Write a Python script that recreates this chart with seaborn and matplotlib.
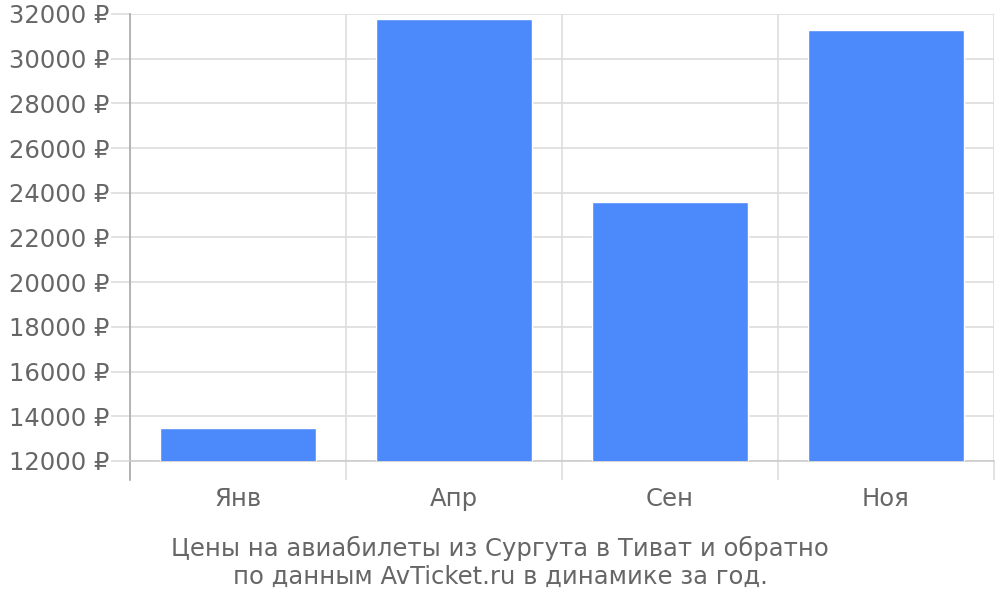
import numpy as np
import pandas as pd
import matplotlib
matplotlib.use("Agg")
import matplotlib.pyplot as plt
import seaborn as sns
from matplotlib.ticker import FixedLocator, FuncFormatter

months = ["Янв", "Апр", "Сен", "Ноя"]
prices = [13480, 31780, 23590, 31270]
y_ticks = list(range(12000, 32001, 2000))
caption = "Цены на авиабилеты из Сургута в Тиват и обратно\nпо данным AvTicket.ru в динамике за год."

BAR_COLOR = "#4c89fa"
TEXT_COLOR = "#666666"
GRID_COLOR = "#dddddd"
FS = 17.5

sns.set_theme(style="white")
plt.rcParams["font.family"] = ["DejaVu Sans"]

df = pd.DataFrame({"month": months, "price": prices})

fig = plt.figure(figsize=(10, 6), dpi=100)
ax = fig.add_axes([0.13, 0.2317, 0.864, 0.745])

sns.barplot(data=df, x="month", y="price", color=BAR_COLOR, width=0.72,
            saturation=1, ax=ax, zorder=3)

ax.set_ylim(12000, 32000)
ax.set_xlim(-0.5, len(months) - 0.5)
ax.set_yticks(y_ticks)
ax.yaxis.set_major_formatter(FuncFormatter(lambda v, p: f"{int(v)} ₽"))
ax.xaxis.set_minor_locator(FixedLocator(np.arange(-0.5, len(months), 1.0)))

ax.grid(True, axis="y", which="major", color=GRID_COLOR, linewidth=1.2, zorder=0)
ax.grid(True, axis="x", which="minor", color=GRID_COLOR, linewidth=1.2, zorder=0)
ax.set_axisbelow(True)

ax.tick_params(axis="y", which="major", length=14, width=1.2, color=GRID_COLOR,
               labelsize=FS, labelcolor=TEXT_COLOR, pad=1, left=True)
ax.tick_params(axis="x", which="major", length=0, labelsize=FS,
               labelcolor=TEXT_COLOR, pad=19)
ax.tick_params(axis="x", which="minor", length=14, width=1.2, color=GRID_COLOR,
               bottom=True)

for s in ["top", "right"]:
    ax.spines[s].set_visible(False)
ax.spines["left"].set_color("#aaaaaa")
ax.spines["left"].set_linewidth(1.2)
ax.spines["left"].set_bounds(12000 - 20000 * 19 / 447, 32000)
ax.spines["bottom"].set_color("#cccccc")
ax.spines["bottom"].set_linewidth(1.2)

ax.set_xlabel("")
ax.set_ylabel("")

fig.text(0.5, 0.063, caption, ha="center", va="center", fontsize=FS,
         color=TEXT_COLOR, linespacing=1.2)

fig.savefig("out.png", dpi=100)
